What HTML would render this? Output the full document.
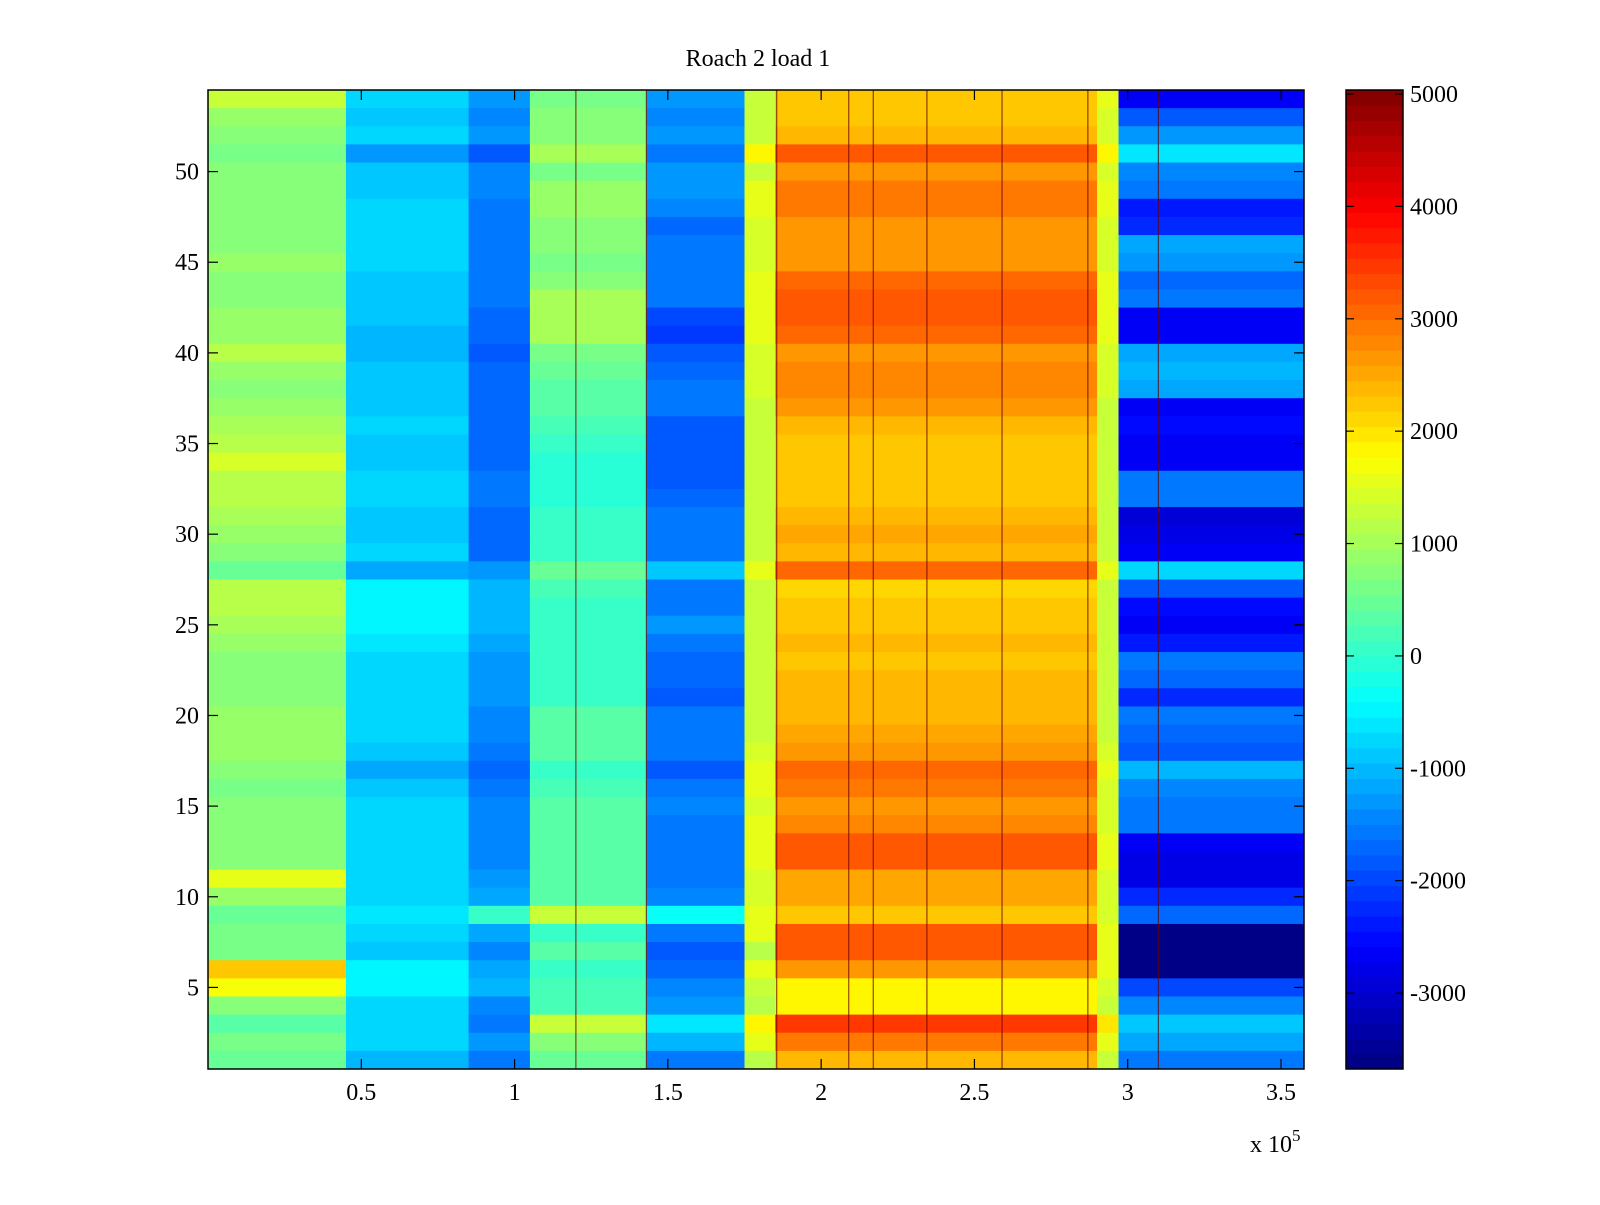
<!DOCTYPE html>
<html><head><meta charset="utf-8"><style>
html,body{margin:0;padding:0;background:#fff;}
svg text{font-family:"Liberation Serif",serif;fill:#000;}
</style></head><body>
<svg id="chart" width="1600" height="1200" viewBox="0 0 1600 1200" xmlns="http://www.w3.org/2000/svg">
<rect width="1600" height="1200" fill="#fff"/>
<text x="758" y="66" font-size="24" text-anchor="middle">Roach 2 load 1</text>
<g id="cells"></g>
<g id="streaks"></g>
<g id="axes"></g>
<g id="cbar"></g>
<text x="1250" y="1152" font-size="24">x 10<tspan dy="-11" font-size="17">5</tspan></text>
</svg>
<script>
// x bin edges (units of 1e5)
const xEdges = [0, 0.45, 0.85, 1.05, 1.43, 1.75, 1.85, 2.9, 2.97, 3.6];
// rows 54 down to 1, one value per x bin
const rowValues = [
[1300,-800,-1300,600,-1300,1300,2300,1500,-2600],
[900,-900,-1400,700,-1400,1300,2300,1400,-1900],
[800,-800,-1300,700,-1300,1300,2400,1400,-1300],
[600,-1300,-1800,1000,-1600,1800,3200,1800,-600],
[800,-900,-1400,600,-1300,1300,2600,1400,-1400],
[700,-900,-1400,900,-1300,1500,2900,1500,-1600],
[700,-800,-1500,900,-1400,1500,2900,1500,-2400],
[800,-800,-1500,800,-1700,1400,2600,1400,-2300],
[800,-800,-1500,700,-1500,1400,2700,1400,-1100],
[900,-800,-1500,600,-1600,1400,2700,1400,-1300],
[800,-900,-1600,700,-1500,1500,3000,1500,-1700],
[800,-900,-1600,1000,-1600,1600,3200,1500,-1500],
[900,-900,-1700,1000,-2000,1600,3200,1500,-2600],
[900,-1000,-1700,1000,-2100,1600,3100,1500,-2600],
[1100,-1000,-1800,600,-1900,1400,2600,1400,-1100],
[900,-900,-1700,500,-1700,1400,2800,1400,-1000],
[800,-900,-1700,400,-1500,1400,2800,1400,-1200],
[900,-900,-1700,300,-1500,1300,2600,1300,-2600],
[1000,-800,-1700,200,-1900,1300,2400,1300,-2500],
[1100,-900,-1700,0,-1900,1300,2300,1300,-2600],
[1400,-900,-1700,-100,-1900,1300,2200,1300,-2700],
[1100,-800,-1600,-100,-1800,1300,2300,1300,-1600],
[1200,-800,-1600,-100,-1700,1300,2300,1300,-1500],
[1000,-900,-1700,0,-1600,1300,2400,1300,-2900],
[900,-900,-1700,100,-1600,1300,2500,1300,-2800],
[700,-800,-1700,100,-1600,1300,2400,1300,-2600],
[500,-1100,-1300,500,-900,1600,3000,1600,-800],
[1200,-500,-1000,200,-1500,1300,2100,1300,-1800],
[1100,-500,-1000,0,-1500,1300,2200,1300,-2500],
[1000,-500,-1000,100,-1300,1300,2200,1300,-2600],
[900,-600,-1200,0,-1500,1300,2400,1300,-2400],
[800,-700,-1300,0,-1700,1300,2300,1300,-1600],
[800,-700,-1300,0,-1700,1300,2400,1300,-1700],
[800,-700,-1300,0,-1800,1300,2400,1300,-2300],
[900,-800,-1400,300,-1500,1300,2400,1300,-1600],
[900,-800,-1400,400,-1500,1300,2500,1300,-1700],
[900,-900,-1500,300,-1500,1400,2700,1400,-1800],
[700,-1200,-1700,0,-1900,1600,3100,1500,-1000],
[600,-900,-1500,200,-1500,1500,2900,1400,-1400],
[800,-800,-1400,300,-1400,1400,2700,1400,-1600],
[700,-800,-1400,300,-1500,1500,2800,1400,-1500],
[700,-800,-1400,400,-1500,1600,3200,1500,-2600],
[800,-800,-1400,400,-1500,1600,3200,1500,-2800],
[1500,-800,-1300,300,-1600,1400,2500,1400,-2800],
[900,-700,-1200,300,-1400,1400,2500,1400,-2200],
[500,-600,0,1300,-400,1500,2300,1400,-1700],
[600,-700,-1200,100,-1500,1600,3200,1500,-3700],
[600,-900,-1400,300,-1800,1100,3200,1500,-3700],
[2300,-500,-1100,0,-1700,1500,2600,1500,-3700],
[1700,-500,-1000,200,-1400,1300,1900,1400,-2000],
[700,-800,-1400,200,-1300,1200,1800,1300,-1400],
[400,-700,-1500,1300,-600,1800,3500,2000,-900],
[600,-800,-1300,700,-1000,1500,2900,1500,-1200],
[500,-1000,-1600,500,-1500,1200,2400,1300,-1500]
];
const streakX = [1.2, 1.43, 1.855, 2.09, 2.17, 2.345, 2.59, 2.87, 3.1];
const xTicks = [0.5, 1, 1.5, 2, 2.5, 3, 3.5];
const xTickLabels = ["0.5","1","1.5","2","2.5","3","3.5"];
const yTicks = [5,10,15,20,25,30,35,40,45,50];
const cTicks = [-3000,-2000,-1000,0,1000,2000,3000,4000,5000];
const cMin = -3676, cMax = 5036;

const L=208, R=1304, T=90, B=1069;
const xMin=0, xMax=3.575, yMin=0.5, yMax=54.5;
const xs = v => L + (v-xMin)/(xMax-xMin)*(R-L);
const ys = v => B - (v-yMin)/(yMax-yMin)*(B-T);
const CL=1346, CR=1403;
const cs = v => B - (v-cMin)/(cMax-cMin)*(B-T);
const NS="http://www.w3.org/2000/svg";
function jet(v){
  let t=(v-cMin)/(cMax-cMin); t=Math.max(0,Math.min(1,t));
  t=(Math.floor(t*64)+0.5)/64;
  const f=x=>Math.max(0,Math.min(1,x));
  const r=f(1.5-Math.abs(4*t-3)), g=f(1.5-Math.abs(4*t-2)), b=f(1.5-Math.abs(4*t-1));
  return `rgb(${Math.round(r*255)},${Math.round(g*255)},${Math.round(b*255)})`;
}
function mk(tag,attrs,parent){const e=document.createElementNS(NS,tag);for(const k in attrs)e.setAttribute(k,attrs[k]);parent.appendChild(e);return e;}
const cells=document.getElementById('cells');
rowValues.forEach((row,i)=>{
  const yv=54-i;
  row.forEach((v,j)=>{
    const x0=xs(xEdges[j]), x1=xs(Math.min(xEdges[j+1],xMax));
    const r=mk('rect',{x:x0,y:ys(yv+0.5),width:x1-x0+0.5,height:ys(yv-0.5)-ys(yv+0.5)+0.5,fill:jet(v)},cells);
    
    
  });
});
const st=document.getElementById('streaks');
streakX.forEach(sx=>{
  const l=mk('line',{x1:xs(sx),x2:xs(sx),y1:T,y2:B,stroke:'#600',"stroke-width":1.2,opacity:0.7},st);
  
  
});
const ax=document.getElementById('axes');
const fr=mk('rect',{x:L,y:T,width:R-L,height:B-T,fill:'none',stroke:'#000','stroke-width':1.5},ax);


xTicks.forEach((t,i)=>{
  const x=xs(t);
  mk('line',{x1:x,x2:x,y1:B,y2:B-10,stroke:'#000','stroke-width':1.2},ax);
  mk('line',{x1:x,x2:x,y1:T,y2:T+10,stroke:'#000','stroke-width':1.2},ax);
  const tx=mk('text',{x:x,y:B+31,'font-size':24,'text-anchor':'middle'},ax);
  tx.textContent=xTickLabels[i];
  
  
});
yTicks.forEach(t=>{
  const y=ys(t);
  mk('line',{x1:L,x2:L+10,y1:y,y2:y,stroke:'#000','stroke-width':1.2},ax);
  mk('line',{x1:R,x2:R-10,y1:y,y2:y,stroke:'#000','stroke-width':1.2},ax);
  const tx=mk('text',{x:L-9,y:y+8,'font-size':24,'text-anchor':'end'},ax);
  tx.textContent=String(t);
  
  
});
const cb=document.getElementById('cbar');
for(let k=0;k<64;k++){
  const v0=cMin+(cMax-cMin)*k/64, v1=cMin+(cMax-cMin)*(k+1)/64;
  const r=mk('rect',{x:CL,y:cs(v1),width:CR-CL,height:cs(v0)-cs(v1)+0.5,fill:jet((v0+v1)/2)},cb);
  
  
}
const cf=mk('rect',{x:CL,y:T,width:CR-CL,height:B-T,fill:'none',stroke:'#000','stroke-width':1.5},cb);


cTicks.forEach(t=>{
  const y=cs(t);
  mk('line',{x1:CL,x2:CL+8,y1:y,y2:y,stroke:'#000','stroke-width':1.2},cb);
  mk('line',{x1:CR,x2:CR-8,y1:y,y2:y,stroke:'#000','stroke-width':1.2},cb);
  const tx=mk('text',{x:CR+7,y:y+8,'font-size':24},cb);
  tx.textContent=String(t);
  
  
});
</script>
</body></html>
